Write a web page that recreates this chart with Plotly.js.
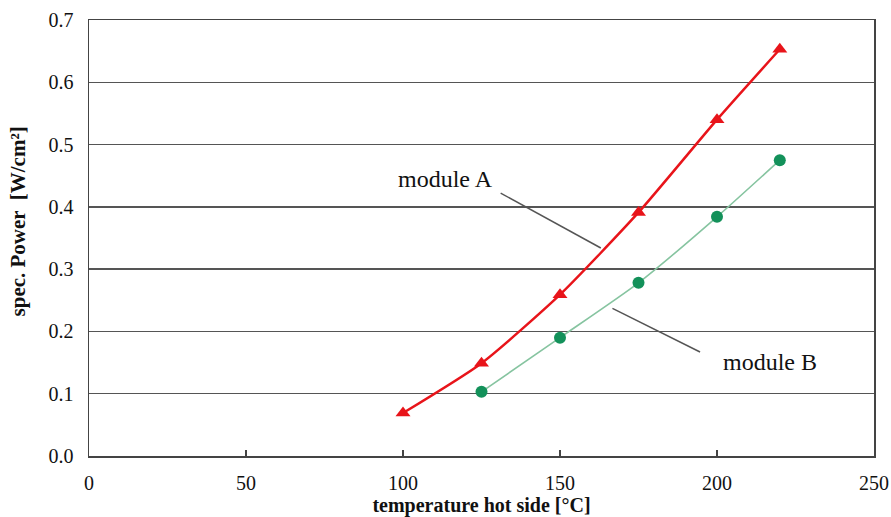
<!DOCTYPE html>
<html>
<head>
<meta charset="utf-8">
<script src="https://cdn.plot.ly/plotly-3.0.1.min.js"></script>
<style>html,body{margin:0;padding:0;background:#fff;}#chart{width:891px;height:517px;}</style>
</head>
<body>
<div id="chart"></div>
<script>
var temperature = [100, 125, 150, 175, 200, 220];
var moduleA = [0.069, 0.149, 0.259, 0.391, 0.540, 0.653];
var temperatureB = [125, 150, 175, 200, 220];
var moduleB = [0.103, 0.190, 0.278, 0.384, 0.475];
var xTicks = [0, 50, 100, 150, 200, 250];
var yTicks = [0.0, 0.1, 0.2, 0.3, 0.4, 0.5, 0.6, 0.7];

var serif = "'Liberation Serif', 'Times New Roman', serif";

var traces = [
  {
    x: temperature, y: moduleA, type: 'scatter', mode: 'lines+markers', name: 'module A',
    line: {color: '#e8141a', width: 2.5, shape: 'spline', smoothing: 0.6},
    marker: {symbol: 'triangle-up', size: 13, color: '#e8141a'}
  },
  {
    x: temperatureB, y: moduleB, type: 'scatter', mode: 'lines+markers', name: 'module B',
    line: {color: '#86c4a0', width: 1.6, shape: 'spline', smoothing: 0.6},
    marker: {symbol: 'circle', size: 12, color: '#13915a'}
  }
];

var layout = {
  width: 891, height: 517,
  margin: {l: 89, r: 17, t: 19.5, b: 61},
  paper_bgcolor: '#fff', plot_bgcolor: '#fff',
  showlegend: false,
  font: {family: serif, color: '#111', size: 16},
  xaxis: {
    range: [0, 250], tickvals: xTicks, ticktext: xTicks.map(String),
    showgrid: false, zeroline: false,
    showline: true, linecolor: '#444', linewidth: 1.5, mirror: true,
    ticks: 'inside', ticklen: 6, tickcolor: '#444', tickwidth: 1.2,
    ticklabelstandoff: 8,
    tickfont: {family: serif, size: 20, color: '#111'},
    title: {text: '<b>temperature hot side [°C]</b>', font: {family: serif, size: 20, color: '#111'}, standoff: 4}
  },
  yaxis: {
    range: [0, 0.7], tickvals: yTicks, ticktext: yTicks.map(function(v){return v.toFixed(1);}),
    showgrid: true, gridcolor: '#555', gridwidth: 1.5, zeroline: false,
    showline: true, linecolor: '#444', linewidth: 1.5, mirror: true,
    ticks: '', ticklabelstandoff: 10,
    tickfont: {family: serif, size: 20, color: '#111'}
  },
  shapes: [
    {type: 'line', xref: 'x', yref: 'y', x0: 131.1, y0: 0.422, x1: 163.0, y1: 0.334, line: {color: '#555', width: 1.5}},
    {type: 'line', xref: 'x', yref: 'y', x0: 166.7, y0: 0.237, x1: 194.6, y1: 0.167, line: {color: '#555', width: 1.5}}
  ],
  annotations: [
    {x: 113.4, y: 0.444, xref: 'x', yref: 'y', text: 'module A', showarrow: false, font: {family: serif, size: 24, color: '#111'}},
    {x: 216.9, y: 0.151, xref: 'x', yref: 'y', text: 'module B', showarrow: false, font: {family: serif, size: 24, color: '#111'}},
    {x: -0.0904, y: 0.538, xref: 'paper', yref: 'paper', xanchor: 'center', yanchor: 'middle', textangle: -90, text: '<b>spec. Power  [W/cm²]</b>', showarrow: false, font: {family: serif, size: 21, color: '#111'}}
  ]
};

Plotly.newPlot('chart', traces, layout, {displayModeBar: false, staticPlot: true});
</script>
</body>
</html>
